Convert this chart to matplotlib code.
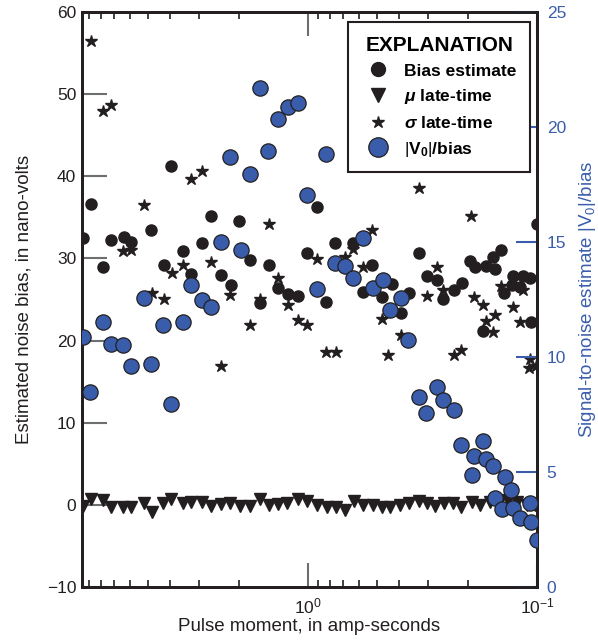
import matplotlib
matplotlib.use('Agg')
import matplotlib.pyplot as plt
from matplotlib.lines import Line2D
from matplotlib.ticker import LogLocator, NullFormatter

plt.rcParams['font.family'] = ['Liberation Sans', 'DejaVu Sans']
plt.rcParams['mathtext.fontset'] = 'custom'
plt.rcParams['mathtext.rm'] = 'Liberation Sans'
plt.rcParams['mathtext.bf'] = 'Liberation Sans:bold'
plt.rcParams['mathtext.it'] = 'Liberation Sans:italic:bold'

# ---- data ----
# mu late-time (left axis, nV)
mu_x = [9.60, 8.86, 7.86, 7.25, 6.43, 5.93, 5.20, 4.80, 4.30, 3.97, 3.52, 3.24, 2.90, 2.65,
        2.40, 2.19, 1.98, 1.79, 1.62, 1.48, 1.35, 1.235, 1.106, 1.01, 0.913, 0.826, 0.755,
        0.689, 0.630, 0.575, 0.520, 0.475, 0.438, 0.397, 0.362, 0.327, 0.302, 0.279, 0.255,
        0.233, 0.215, 0.192, 0.177, 0.160, 0.1465, 0.134, 0.122, 0.1106, 0.102]
mu_y = [-0.1, 0.7, 0.6, -0.25, -0.25, -0.25, 0.25, -0.85, 0.25, 0.7, 0.25, 0.35, 0.35, -0.1,
        0.1, 0.2, -0.1, -0.1, 0.7, 0.0, 0.1, 0.25, 0.7, 0.5, 0.0, -0.25, -0.25,
        -0.6, 0.5, 0.0, 0.0, -0.25, -0.25, 0.0, 0.25, 0.5, 0.25, -0.1, 0.25,
        0.25, -0.25, 0.35, 0.0, 0.35, 0.25, 0.6, 0.35, 0.0, 0.0]

# sigma late-time (left axis, nV)
sig_x = [8.86, 7.86, 7.25, 6.43, 5.93, 5.20, 4.80, 4.26, 3.92, 3.52, 3.24, 2.90, 2.65, 2.40,
         2.19, 1.79, 1.62, 1.48, 1.35, 1.22, 1.106, 1.01, 0.913, 0.834, 0.755, 0.689, 0.636,
         0.575, 0.526, 0.475, 0.448, 0.393, 0.327, 0.302, 0.273, 0.257, 0.231, 0.215, 0.194,
         0.188, 0.172, 0.167, 0.156, 0.153, 0.144, 0.127, 0.119, 0.115, 0.107, 0.108, 0.101]
sig_y = [56.5, 48.0, 48.7, 30.9, 31.0, 36.5, 25.8, 25.0, 28.2, 29.2, 39.7, 40.7, 29.6, 16.9,
         25.6, 21.9, 25.1, 34.2, 27.6, 24.3, 22.5, 21.9, 29.9, 18.6, 18.6, 30.2, 31.2,
         29.0, 33.4, 22.6, 18.3, 20.7, 38.6, 25.4, 28.9, 26.1, 18.3, 18.9, 35.2,
         25.3, 24.3, 22.4, 21.1, 23.1, 26.7, 24.1, 22.3, 26.2, 17.7, 16.6, 16.9]

# bias estimate (left axis, nV)
bias_x = [9.60, 8.86, 7.86, 7.25, 6.36, 5.93, 4.85, 4.26, 3.97, 3.52, 3.24, 2.90, 2.65, 2.40,
          2.17, 2.00, 1.79, 1.62, 1.48, 1.35, 1.22, 1.106, 1.01, 0.913, 0.834, 0.762, 0.636,
          0.575, 0.526, 0.475, 0.430, 0.393, 0.362, 0.327, 0.302, 0.273, 0.257, 0.231, 0.213,
          0.196, 0.187, 0.172, 0.167, 0.156, 0.153, 0.144, 0.139, 0.128, 0.127, 0.119, 0.115,
          0.107, 0.106, 0.100]
bias_y = [32.5, 36.6, 29.0, 32.3, 32.6, 32.0, 33.4, 29.2, 41.3, 30.9, 28.1, 31.9, 35.2, 28.0,
          26.8, 34.6, 29.8, 24.6, 29.2, 26.4, 25.7, 25.4, 30.6, 36.3, 24.7, 31.9, 31.9,
          25.9, 29.2, 25.3, 26.9, 23.3, 25.8, 30.7, 27.8, 27.4, 25.1, 26.2, 27.0,
          29.7, 28.9, 21.2, 29.1, 30.2, 28.7, 31.0, 25.8, 26.8, 27.9, 26.5, 27.9,
          27.6, 22.3, 34.2]

# |V0|/bias (right axis)
snr_x = [9.60, 8.95, 7.86, 7.25, 6.43, 5.93, 5.20, 4.85, 4.30, 3.97, 3.52, 3.24, 2.90, 2.65,
         2.40, 2.19, 1.96, 1.79, 1.62, 1.50, 1.35, 1.22, 1.106, 1.01, 0.913, 0.834, 0.762,
         0.689, 0.636, 0.575, 0.520, 0.470, 0.438, 0.393, 0.366, 0.327, 0.305, 0.273, 0.257,
         0.231, 0.215, 0.192, 0.188, 0.172, 0.167, 0.156, 0.138, 0.130, 0.153, 0.142, 0.127,
         0.119, 0.107, 0.106, 0.100]
snr_y = [10.87, 8.48, 11.52, 10.57, 10.52, 9.61, 12.57, 9.70, 11.39, 7.96, 11.52, 13.13, 12.48,
         12.17, 15.0, 18.70, 14.65, 17.96, 21.70, 18.96, 20.35, 20.87, 21.04, 17.04, 12.96,
         18.83, 14.09, 13.96, 13.43, 15.17, 13.0, 13.35, 12.04, 12.57, 10.74, 8.26, 7.57,
         8.70, 8.13, 7.70, 6.17, 4.87, 5.70, 6.35, 5.57, 5.26, 4.78, 4.22, 3.87, 3.39, 3.43,
         3.0, 3.65, 2.83, 2.04]

left_ticks = [-10, 0, 10, 20, 30, 40, 50, 60]
right_ticks = [0, 5, 10, 15, 20, 25]

DARK = '#231f20'
BLUE = '#3a5dab'
TICKGRAY = '#6d6e71'

fig = plt.figure(figsize=(5.98, 6.42), dpi=100)
ax = fig.add_axes([0.137, 0.0857, 0.761, 0.8956])
ax.set_xscale('log')
ax.set_xlim(9.7, 0.1)
ax.set_ylim(-10, 60)
ax.set_yticks(left_ticks)

ax.plot(bias_x, bias_y, 'o', ms=8, color=DARK, mec=DARK, zorder=3)
ax.plot(mu_x, mu_y, 'v', ms=8.5, color=DARK, mec=DARK, zorder=3)
ax.plot(sig_x, sig_y, '*', ms=9, color=DARK, mec=DARK, zorder=3)

ax2 = ax.twinx()
ax2.set_ylim(0, 25)
ax2.set_yticks(right_ticks)
ax2.plot(snr_x, snr_y, 'o', ms=11, color=BLUE, mec=DARK, mew=0.9, zorder=4)

for a in (ax, ax2):
    for s in a.spines.values():
        s.set_linewidth(2)
        s.set_color(DARK)

ax.xaxis.set_major_locator(LogLocator(base=10))
ax.xaxis.set_minor_locator(LogLocator(base=10, subs=range(2, 10)))
ax.xaxis.set_minor_formatter(NullFormatter())
ax.tick_params(axis='x', which='major', direction='in', length=17, width=1.5,
               color=TICKGRAY, top=True, bottom=True, labelsize=12.5, labelcolor=DARK, pad=7)
ax.tick_params(axis='x', which='minor', direction='in', length=5, width=1.2,
               color=DARK, top=True, bottom=True)
ax.tick_params(axis='y', which='major', direction='in', length=18, width=1.5,
               color=TICKGRAY, left=True, right=False, labelsize=12.5, labelcolor=DARK, pad=4)
ax2.tick_params(axis='y', which='major', direction='in', length=15, width=1.5,
                color=BLUE, labelcolor=BLUE, labelsize=12.5, pad=7)

ax.set_xlabel('Pulse moment, in amp-seconds', fontsize=13.5, color=DARK, labelpad=1)
ax.set_ylabel('Estimated noise bias, in nano-volts', fontsize=13.5, color=DARK, labelpad=10)
ax2.set_ylabel(r'Signal-to-noise estimate $|\mathrm{V}_0|$/bias', fontsize=13.5,
               color=BLUE, labelpad=8)

handles = [
    Line2D([], [], ls='none', marker='o', ms=10, color=DARK),
    Line2D([], [], ls='none', marker='v', ms=10, color=DARK),
    Line2D([], [], ls='none', marker='*', ms=9, color=DARK),
    Line2D([], [], ls='none', marker='o', ms=14, color=BLUE, mec=DARK, mew=0.9),
]
labels = ['Bias estimate', r'$\mu$ late-time', r'$\sigma$ late-time',
          r'$|\mathbf{V}_\mathbf{0}|$/bias']
leg = ax2.legend(handles, labels, loc='upper right', bbox_to_anchor=(0.985, 0.983),
                 borderaxespad=0, fancybox=False, framealpha=1, edgecolor=DARK,
                 title='EXPLANATION', prop={'weight': 'bold', 'size': 12.5},
                 title_fontproperties={'weight': 'bold', 'size': 15},
                 handletextpad=0.6, labelspacing=0.5, borderpad=0.8, handlelength=1.8)
leg.get_frame().set_linewidth(1.5)
leg.set_zorder(10)

fig.savefig('out.png', dpi=100)
